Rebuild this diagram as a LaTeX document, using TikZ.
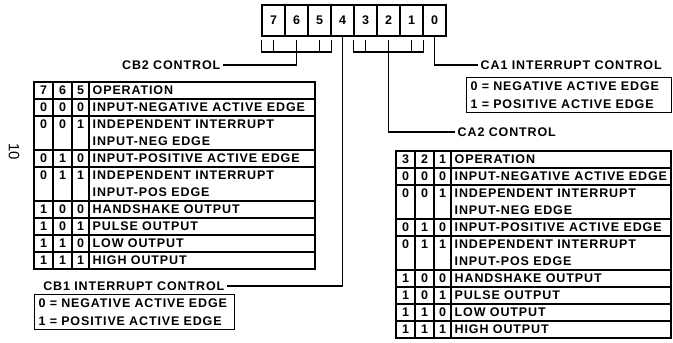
\documentclass[tikz,border=0pt]{standalone}
\usepackage{fontspec}
\setmainfont{Liberation Sans}[LetterSpace=7]
\newfontfamily\pagefont{Liberation Sans}
\usetikzlibrary{positioning}

\begin{document}
\begin{tikzpicture}[x=1pt, y=-1pt, line width=1.4pt,
    cell/.style={draw, minimum width=23pt, minimum height=31pt, inner sep=0pt,
      font=\bfseries\fontsize{12.5}{14}\selectfont},
    lbl/.style={inner sep=2pt, font=\bfseries\fontsize{12.5}{14}\selectfont},
    key/.style={draw, anchor=north west, align=left, inner xsep=4pt, inner ysep=4pt,
      font=\bfseries\fontsize{12.5}{18}\selectfont},
    dig/.style={inner sep=0pt, font=\bfseries\fontsize{12.5}{14}\selectfont},
    op/.style={anchor=west, inner sep=0pt, font=\bfseries\fontsize{12.5}{14}\selectfont}]
  \useasboundingbox (0,0) rectangle (673,343);
  % control register
  \foreach \b [count=\i from 0] in {7,6,5,4,3,2,1,0}
    \node[cell] (r\b) at (273.5+23*\i,20.5) {\b};
  % brackets under bits 7-5 and 3-1
  \foreach \a/\m/\z in {7/6/5, 3/2/1} {
    \draw (r\a.west |- 0,40) |- (r\z.east |- 0,52) -- (r\z.east |- 0,40);
    \foreach \c in {\a,\m,\z}
      \draw (r\c |- 0,40) -- (r\c |- 0,52);
    \coordinate (k\a\m\z) at (r\m |- 0,52);
  }
  % labels and leaders
  \node[lbl, anchor=east] (cb2) at (223,65) {CB2 CONTROL};
  \node[lbl, anchor=east] (cb1) at (227,286) {CB1 INTERRUPT CONTROL};
  \node[lbl, anchor=west] (ca1) at (478,65) {CA1 INTERRUPT CONTROL};
  \node[lbl, anchor=west] (ca2) at (455,132) {CA2 CONTROL};
  \draw (cb2) -| (k765);
  \draw (r4) |- (cb1);
  \draw (r0) |- (ca1);
  \draw (k321) |- (ca2);
  % edge keys
  \node[key, text width=197pt] (ca1key) at (466,77)
    {0 = NEGATIVE ACTIVE EDGE\\1 = POSITIVE ACTIVE EDGE};
  \node[key, text width=192pt] (cb1key) at (34,294)
    {0 = NEGATIVE ACTIVE EDGE\\1 = POSITIVE ACTIVE EDGE};
  % operation tables
  \foreach \t/\tx/\ty/\tw/\ha/\hb/\hc in {L/34/82/281/7/6/5, R/396/151/275/3/2/1} {
    \begin{scope}[shift={(\tx,\ty)}]
      \foreach \r/\h/\p/\q/\s/\ta/\tb in {0/1/\ha/\hb/\hc/OPERATION/{},
          1/1/0/0/0/INPUT-NEGATIVE ACTIVE EDGE/{},
          2/2/0/0/1/INDEPENDENT INTERRUPT/INPUT-NEG EDGE,
          4/1/0/1/0/INPUT-POSITIVE ACTIVE EDGE/{},
          5/2/0/1/1/INDEPENDENT INTERRUPT/INPUT-POS EDGE,
          7/1/1/0/0/HANDSHAKE OUTPUT/{},
          8/1/1/0/1/PULSE OUTPUT/{},
          9/1/1/1/0/LOW OUTPUT/{},
          10/1/1/1/1/HIGH OUTPUT/{}} {
        \draw (0,17*\r) rectangle (\tw,17*\r+17*\h);
        \foreach \v in {19,38,55}
          \draw (\v,17*\r) -- (\v,17*\r+17*\h);
        \node[dig] (\t-p\r) at (9.5,17*\r+8.5) {\p};
        \node[dig] (\t-q\r) at (28.5,17*\r+8.5) {\q};
        \node[dig] (\t-s\r) at (46.5,17*\r+8.5) {\s};
        \node[op] (\t-a\r) at (58,17*\r+8.5) {\ta};
        \ifnum\h>1 \node[op] (\t-b\r) at (58,17*\r+25.5) {\tb}; \fi
      }
    \end{scope}
  }
  % page number
  \node[font=\pagefont\fontsize{15}{17}\selectfont, rotate=-90] (pgno) at (14,152) {10};
\end{tikzpicture}
\end{document}
